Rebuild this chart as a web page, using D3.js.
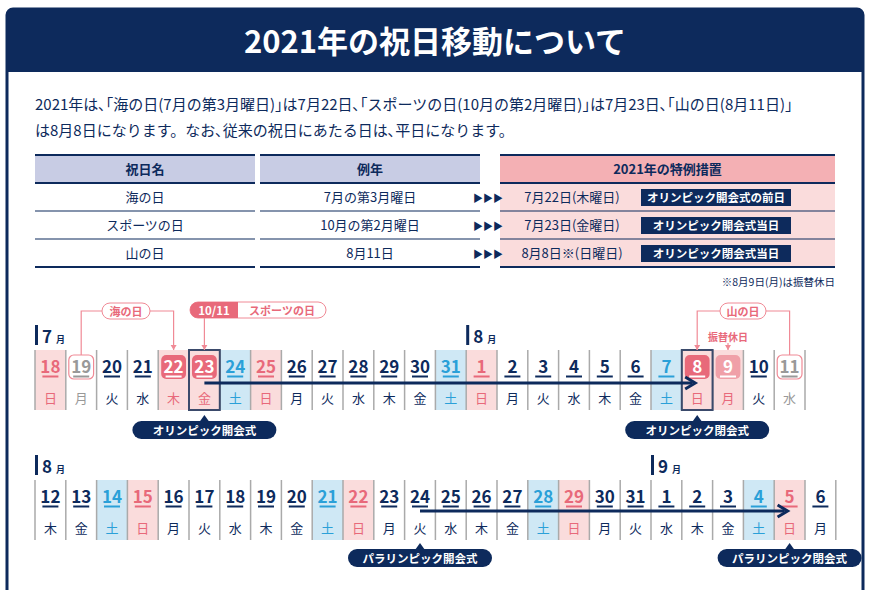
<!DOCTYPE html>
<html><head><meta charset="utf-8">
<script src="https://cdn.jsdelivr.net/npm/d3@7"></script>
<style>body{margin:0;background:#fff}text{font-family:"Noto Sans CJK JP","Noto Sans",sans-serif}</style>
</head><body><svg id="viz" width="870" height="590"></svg>
<script>
var NAVY="#0d2a5c", PINK="#e8697a", PINKBG="#fadcdc", BLUE="#2aa0d8", BLUEBG="#cfe8f5", GREY="#999";

var introLines = ["2021年は､｢海の日(7月の第3月曜日)｣は7月22日､｢スポーツの日(10月の第2月曜日)｣は7月23日､｢山の日(8月11日)｣",
                  "は8月8日になります。なお､従来の祝日にあたる日は､平日になります。"];
var tableHeaders = ["祝日名","例年","2021年の特例措置"];
var holidayNames = ["海の日","スポーツの日","山の日"];
var usualDates = ["7月の第3月曜日","10月の第2月曜日","8月11日"];
var newDates = ["7月22日(木曜日)","7月23日(金曜日)","8月8日※(日曜日)"];
var badges = ["オリンピック開会式の前日","オリンピック開会式当日","オリンピック閉会式当日"];

var row1Days = [18,19,20,21,22,23,24,25,26,27,28,29,30,31,1,2,3,4,5,6,7,8,9,10,11];
var row1Week = ["日","月","火","水","木","金","土","日","月","火","水","木","金","土","日","月","火","水","木","金","土","日","月","火","水"];
// n normal, sat, sun, hol (filled), sub (light filled), old (former holiday)
var row1Type = ["sun","old","n","n","hol","hol","sat","sun","n","n","n","n","n","sat","sun","n","n","n","n","n","sat","hol","sub","n","old"];
var row2Days = [12,13,14,15,16,17,18,19,20,21,22,23,24,25,26,27,28,29,30,31,1,2,3,4,5,6];
var row2Week = ["木","金","土","日","月","火","水","木","金","土","日","月","火","水","木","金","土","日","月","火","水","木","金","土","日","月"];
var row2Type = ["n","n","sat","sun","n","n","n","n","n","sat","sun","n","n","n","n","n","sat","sun","n","n","n","n","n","sat","sun","n"];

var svg = d3.select("#viz");
// frame + title
svg.append("rect").attr("x",7).attr("y",9).attr("width",856).attr("height",600).attr("rx",6)
  .attr("fill","none").attr("stroke",NAVY).attr("stroke-width",3);
svg.append("path").attr("d","M7,72 V15 Q7,9 13,9 H857 Q863,9 863,15 V72 Z").attr("fill",NAVY);
svg.append("text").attr("x",435).attr("y",53).attr("text-anchor","middle").attr("fill","#fff")
  .attr("font-size",31).attr("font-weight",700).text("2021年の祝日移動について");

svg.selectAll(".intro").data(introLines).join("text").attr("x",35).attr("y",(d,i)=>110+i*26)
  .attr("font-size",15).attr("fill",NAVY).text(d=>d);

// table
var colX = [35,260,500], colW=[220,220,335];
var ty = d3.scaleBand().domain(d3.range(4)).range([155,267]);
tableHeaders.forEach(function(h,c){
  svg.append("rect").attr("x",colX[c]).attr("y",ty(0)).attr("width",colW[c]).attr("height",ty.bandwidth())
    .attr("fill",c<2?"#c8cce4":"#f4b0b4");
  svg.append("text").attr("x",colX[c]+colW[c]/2).attr("y",ty(0)+19).attr("text-anchor","middle")
    .attr("font-size",13).attr("font-weight",700).attr("fill",NAVY).text(h);
});
svg.append("rect").attr("x",colX[2]).attr("y",ty(1)).attr("width",colW[2]).attr("height",ty.bandwidth()*3).attr("fill",PINKBG);
holidayNames.forEach(function(n,i){
  var y=ty(i+1);
  [n,usualDates[i],newDates[i]].forEach(function(t,c){
    var cx = c<2 ? colX[c]+colW[c]/2 : 572;
    svg.append("text").attr("x",cx).attr("y",y+19).attr("text-anchor","middle").attr("font-size",13).attr("fill",NAVY).text(t);
  });
  svg.append("text").attr("x",488).attr("y",y+19).attr("text-anchor","middle").attr("font-size",10).attr("fill",NAVY).text("▶▶▶");
  svg.append("rect").attr("x",641).attr("y",y+6).attr("width",150).attr("height",17).attr("fill",NAVY);
  svg.append("text").attr("x",716).attr("y",y+19).attr("text-anchor","middle").attr("font-size",11.5).attr("font-weight",700).attr("fill","#fff").text(badges[i]);
});
d3.range(5).forEach(function(k){
  var y = k==0?155:ty(k)+(k==4?0:0);
  if(k==4) y=267;
  colX.forEach(function(x,c){
    svg.append("line").attr("x1",x).attr("x2",x+colW[c]).attr("y1",k==0?155:y).attr("y2",k==0?155:y)
      .attr("stroke",NAVY).attr("stroke-width",k==0||k==1||k==4?2:1.2);
  });
});
svg.append("text").attr("x",835).attr("y",286).attr("text-anchor","end").attr("font-size",10.5).attr("fill",NAVY).text("※8月9日(月)は振替休日");

// calendar rows
function drawRow(days, week, types, top){
  var x = d3.scaleBand().domain(d3.range(days.length)).range([35,35+30.8*days.length]);
  var g = svg.append("g");
  var cells = g.selectAll("g").data(days).join("g").attr("transform",(d,i)=>"translate("+x(i)+","+top+")");
  cells.append("rect").attr("width",x.bandwidth()).attr("height",60)
    .attr("fill",(d,i)=>{var t=types[i];return t=="sat"?BLUEBG:(t=="sun"||t=="hol"&&week[i]!="金"||t=="sub"?PINKBG:(t=="hol"?PINKBG:"#fff"));});
  cells.append("line").attr("y1",0).attr("y2",60).attr("stroke","#aaa").attr("stroke-width",1.5);
  cells.filter((d,i)=>types[i]=="hol"||types[i]=="sub").append("rect").attr("x",3).attr("y",5).attr("width",x.bandwidth()-6).attr("height",24).attr("rx",5)
    .attr("fill",(d,i)=>types[days.indexOf(d)]=="sub"?"#f0a0a8":PINK);
  cells.filter((d,i)=>types[i]=="old").append("rect").attr("x",3).attr("y",5).attr("width",x.bandwidth()-6).attr("height",24).attr("rx",5)
    .attr("fill","#fff").attr("stroke","#f08a96").attr("stroke-width",1.2);
  var numCol=function(i){var t=types[i];return t=="hol"||t=="sub"?"#fff":t=="old"?GREY:t=="sat"?BLUE:t=="sun"?PINK:NAVY;};
  var dayCol=function(i){var t=types[i];return t=="old"?GREY:t=="sat"?BLUE:(t=="sun"||t=="hol"||t=="sub")?PINK:NAVY;};
  cells.append("text").attr("x",x.bandwidth()/2).attr("y",23).attr("text-anchor","middle").attr("font-size",17).attr("font-weight",700)
    .attr("font-family","Roboto,'DejaVu Sans Condensed',sans-serif").attr("fill",(d,i)=>numCol(i)).text(d=>d);
  cells.append("line").attr("x1",x.bandwidth()/2-8).attr("x2",x.bandwidth()/2+8).attr("y1",26.5).attr("y2",26.5)
    .attr("stroke",(d,i)=>numCol(i)).attr("stroke-width",2);
  cells.append("text").attr("x",x.bandwidth()/2).attr("y",53).attr("text-anchor","middle").attr("font-size",13)
    .attr("fill",(d,i)=>dayCol(i)).text((d,i)=>week[i]);
  g.append("line").attr("x1",x.range()[1]).attr("x2",x.range()[1]).attr("y1",top).attr("y2",top+60).attr("stroke","#aaa").attr("stroke-width",1.5);
  return x;
}
function monthLabel(x,y,m){
  svg.append("rect").attr("x",x).attr("y",y).attr("width",3).attr("height",20).attr("fill",NAVY);
  svg.append("text").attr("x",x+7).attr("y",y+18).attr("font-size",17).attr("font-weight",700).attr("fill",NAVY).text(m);
  svg.append("text").attr("x",x+7+m.length*10+4).attr("y",y+18).attr("font-size",9).attr("font-weight",700).attr("fill",NAVY).text("月");
}
function arrow(x1,x2,y){
  svg.append("line").attr("x1",x1).attr("x2",x2-2).attr("y1",y).attr("y2",y).attr("stroke",NAVY).attr("stroke-width",3);
  svg.append("path").attr("d","M"+(x2-9)+","+(y-6)+" L"+(x2+1)+","+y+" L"+(x2-9)+","+(y+6)).attr("fill","none").attr("stroke",NAVY).attr("stroke-width",3);
}
function pill(cx,y,t){
  svg.append("path").attr("d","M"+(cx-5)+","+(y-1)+" L"+cx+","+(y-8)+" L"+(cx+5)+","+(y-1)+"Z").attr("fill",NAVY);
  svg.append("rect").attr("x",cx-72).attr("y",y-2).attr("width",144).attr("height",18).attr("rx",9).attr("fill",NAVY);
  svg.append("text").attr("x",cx).attr("y",y+12).attr("text-anchor","middle").attr("font-size",11.5).attr("font-weight",700).attr("fill","#fff").text(t);
}
function tagLine(pts,arrowEnd){
  svg.append("path").attr("d",d3.line()(pts)).attr("fill","none").attr("stroke","#f08a96").attr("stroke-width",1.2);
  if(arrowEnd){var p=pts[pts.length-1];svg.append("path").attr("d","M"+(p[0]-3)+","+(p[1]-5)+" L"+p[0]+","+p[1]+" L"+(p[0]+3)+","+(p[1]-5)+"Z").attr("fill","#f08a96");}
}

var x1 = drawRow(row1Days,row1Week,row1Type,350);
var x2 = drawRow(row2Days,row2Week,row2Type,480);
var c1 = i=>x1(i)+x1.bandwidth()/2, c2 = i=>x2(i)+x2.bandwidth()/2;

// highlighted boxes
[5,21].forEach(function(i){
  svg.append("rect").attr("x",x1(i)).attr("y",350).attr("width",x1.bandwidth()).attr("height",60)
    .attr("fill","none").attr("stroke","#3b4a6b").attr("stroke-width",2);
});
monthLabel(35,325,"7"); monthLabel(x1(14),325,"8");
monthLabel(35,455,"8"); monthLabel(x2(20),455,"9");
arrow(c1(5),c1(21)-3,383);
arrow(c2(12),c2(24)-3,511);
pill(c1(5),423,"オリンピック開会式"); pill(c1(21),423,"オリンピック閉会式");
pill(c2(12),551,"パラリンピック開会式"); pill(c2(24),551,"パラリンピック閉会式");

// callouts
tagLine([[c1(1),355],[c1(1),311],[102,311]]);
tagLine([[150,311],[c1(4),311],[c1(4),350]],true);
svg.append("rect").attr("x",102).attr("y",303).attr("width",48).attr("height",16).attr("rx",8).attr("fill","#fff").attr("stroke","#f08a96");
svg.append("text").attr("x",126).attr("y",315.5).attr("text-anchor","middle").attr("font-size",11).attr("font-weight",700).attr("fill",PINK).text("海の日");

tagLine([[c1(5),318],[c1(5),350]],true);
svg.append("rect").attr("x",190).attr("y",302).attr("width",136).attr("height",16).attr("rx",8).attr("fill","#fff").attr("stroke","#f08a96");
svg.append("path").attr("d","M238,302 H198 A8,8 0 0 0 198,318 H238 Z").attr("fill",PINK);
svg.append("text").attr("x",214).attr("y",315).attr("text-anchor","middle").attr("font-size",11.5).attr("font-weight",700).attr("fill","#fff").text("10/11");
svg.append("text").attr("x",282).attr("y",315).attr("text-anchor","middle").attr("font-size",11).attr("font-weight",700).attr("fill",PINK).text("スポーツの日");

tagLine([[c1(21),350],[c1(21),311],[720,311]]);
tagLine([[c1(21),345],[c1(21),350]],true);
tagLine([[765,311],[c1(24),311],[c1(24),355]]);
svg.append("rect").attr("x",720).attr("y",303).attr("width",46).attr("height",16).attr("rx",8).attr("fill","#fff").attr("stroke","#f08a96");
svg.append("text").attr("x",743).attr("y",315.5).attr("text-anchor","middle").attr("font-size",11).attr("font-weight",700).attr("fill",PINK).text("山の日");
svg.append("text").attr("x",c1(22)).attr("y",341).attr("text-anchor","middle").attr("font-size",10).attr("font-weight",700).attr("fill",PINK).text("振替休日");
tagLine([[c1(22),343],[c1(22),350]],true);
</script></body></html>
